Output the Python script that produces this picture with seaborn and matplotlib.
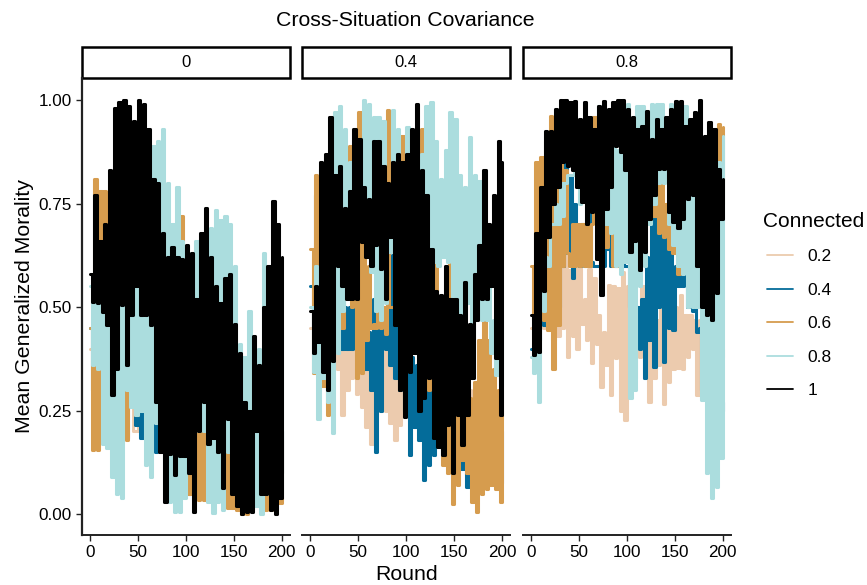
import numpy as np
import pandas as pd
import seaborn as sns
import matplotlib.pyplot as plt
from matplotlib.patches import Rectangle

# values: upper and lower edge of each jittery line
# upper edges sit on rounds 0, 5, 10 ... and lower edges on 2.5, 7.5 ...
cov_levels = ["0", "0.4", "0.8"]
conn_levels = ["0.2", "0.4", "0.6", "0.8", "1"]
colors = ["#ECCBAE", "#046C9A", "#D69C4E", "#ABDDDE", "#000000"]

# panel 0
c0_pink_hi = [.4, .45, .45, .45, .4, .4, .4, .4, .4, .35, .35, .35, .3, .3, .3, .3, .3, .25, .25, .2, .2]
c0_pink_lo = [.3, .3, .3, .3, .2, .3, .3, .3, .3, .3, .25, .25, .2, .2, .2, .15, .15, .1, .1, .1]
c0_blue_hi = [.45, .5, .6, .77, .5, .5, .5, .5, .30, .3, .28, .3, .3, .3, .3, .3, .3, .3, .3, .3, .3,
              .3, .3, .3, .3, .3, .3, .3, .3, .3, .3, .2, .2, .2, .2, .2, .2, .2, .2, .2, .2]
c0_blue_lo = [.3, .3, .3, .3, .3, .3, .3, .183, .3, .215, .183, .3, .3, .15, .3, .2, .2, .2, .2, .2,
              .05, .2, .2, .2, .1, .2, .2, .2, .15, .15, .1, .1, .1, .1, .1, .1, .1, .1, .1, .1]
c0_orange_hi = [.45, .81, .78, .78, .55, .5, .5, .5, .35, .35, .37, .4, .4, .4, .4, .4, .4, .4, .4, .72, .4,
                .4, .3, .3, .3, .3, .3, .3, .3, .3, .3, .2, .2, .2, .2, .2, .2, .2, .2, .18, .18]
c0_orange_lo = [.155, .155, .23, .19, .3, .3, .3, .18, .3, .24, .3, .3, .3, .3, .3, .3, .3, .3, .3, .05,
                .05, .1, .035, .035, .1, .06, .1, .1, .015, .015, .01, 0, 0, .01, .1, .1, .01, .01, .04, .027]
c0_teal_hi = [.55, .55, .6, .65, .7, .75, .8, .8, .8, .8, .8, .8, .8, .89, .90, .93, .80, .70, .79, .66, .63,
              .63, .66, .62, .63, .69, .735, .71, .72, .70, .60, .41, .38, .49, .42, .40, .63, .50, .45, .45, .45]
c0_teal_lo = [.36, .35, .17, .16, .09, .05, .04, .30, .26, .24, .25, .12, .09, .22, .22, .05, .03, .005, .005, .04,
              .15, .2, .2, .2, .03, .003, .03, .01, .15, .1, .1, .1, .1, .1, .02, 0, .05, .05, .05, .05]
c0_black_hi = [.58, .77, .66, .70, .83, .98, .995, 1.0, .985, .95, 1.0, .99, .93, .81, .80, .68, .62, .645, .62, .617, .65,
               .63, .52, .68, .74, .62, .55, .51, .57, .58, .46, .39, .27, .25, .43, .36, .50, .60, .755, .70, .62]
c0_black_lo = [.512, .51, .488, .456, .288, .35, .505, .36, .48, .55, .48, .48, .456, .27, .15, .03, .145, .095, .14, .14,
               .10, .006, .20, .27, .17, .185, .15, .063, .23, .05, .02, 0, .005, .005, .2, .05, .05, .01, 0, .04]

# panel 0.4
c4_pink_hi = [.45, .45, .45, .45, .45, .49, .49, .49, .49, .49, .49, .46, .44, .40, .40, .43, .40, .37, .35, .33, .31,
              .33, .33, .33, .33, .33, .33, .33, .33, .3, .3, .3, .3, .3, .3, .3, .3, .3, .3, .3, .3]
c4_pink_lo = [.4, .4, .4, .4, .38, .35, .24, .30, .33, .29, .26, .21, .17, .24, .25, .25, .22, .18, .215, .27,
              .3, .3, .3, .3, .3, .3, .3, .3, .25, .25, .25, .25, .25, .25, .25, .25, .25, .25, .25, .25]
c4_blue_hi = [.55, .77, .834, .6, .5, .5, .5, .5, .5, .5, .5, .5, .44, .52, .47, .5, .5, .625, .55, .4, .4,
              .38, .36, .36, .36, .36, .24, .3, .3, .2, .2, .2, .2, .2, .2, .2, .2, .2, .2, .2, .2]
c4_blue_lo = [.45, .45, .4, .4, .4, .4, .4, .4, .4, .4, .4, .35, .3, .15, .25, .4, .36, .33, .3, .25,
              .143, .21, .18, .083, .12, .143, .185, .2, .2, .2, .2, .11, .067, .1, .1, .1, .083, .1, .1, .075]
c4_orange_hi = [.64, .82, .78, .6, .6, .6, .6, .6, .89, .66, .97, .66, .60, .46, .5, .5, .975, .5, .5, .914, .5,
                .5, .5, .93, .5, .5, .625, .5, .5, .617, .45, .35, .35, .28, .32, .42, .50, .42, .35, .30, .25]
c4_orange_lo = [.34, .38, .31, .24, .4, .45, .45, .55, .5, .33, .34, .42, .45, .45, .45, .436, .5, .5, .5, .5,
                .5, .5, .3, .3, .3, .3, .3, .12, .1, .025, .07, .13, .1, .03, .005, .05, .06, .07, .06, .03]
c4_teal_hi = [.5, .6, .7, .8, .82, .97, .986, .93, .85, .90, .82, 1.0, .99, .96, .96, .95, .79, .975, .93, .85, .935,
              .87, .906, .87, .986, .995, .90, .81, .88, .97, .954, .82, .79, .91, .82, .805, .63, .55, .47, .47, .47]
c4_teal_lo = [.344, .23, .33, .27, .195, .39, .49, .71, .71, .71, .687, .76, .585, .49, .47, .51, .633, .71, .71, .71,
              .71, .71, .71, .77, .617, .61, .60, .62, .61, .51, .40, .47, .51, .424, .55, .47, .47, .39, .335, .31]
c4_black_hi = [.49, .55, .85, .87, .96, .82, .84, .74, .78, .93, .906, .79, .76, .90, .90, .84, .80, .85, .87, .85, .87,
               .93, .99, .83, .77, .64, .54, .53, .60, .52, .52, .48, .56, .46, .58, .65, .83, .70, .77, .90, .85]
c4_black_lo = [.39, .416, .344, .30, .37, .60, .55, .52, .52, .52, .657, .62, .60, .65, .593, .52, .67, .456, .30, .235,
               .344, .39, .25, .28, .33, .183, .163, .143, .215, .10, .24, .167, .24, .33, .47, .52, .52, .55, .376, .24]

# panel 0.8
c8_pink_hi = [.45, .45, .5, .5, .5, .55, .6, .633, .59, .65, .70, .52, .593, .57, .48, .44, .553, .55, .545, .585, .55,
              .5, .5, .55, .45, .42, .47, .512, .48, .536, .50, .53, .48, .48, .47, .47, .42, .42, .42, .42, .4]
c8_pink_lo = [.45, .45, .45, .45, .42, .43, .45, .38, .43, .40, .46, .42, .364, .41, .308, .36, .288, .376, .25, .227,
              .31, .33, .38, .33, .27, .33, .36, .267, .32, .35, .352, .35, .38, .40, .288, .28, .35, .38, .38, .38]
c8_blue_hi = [.4, .45, .5, .55, .55, .6, .7, .85, .82, .75, .6, .6, .73, .6, .6, .6, .75, .72, .65, .65, .6,
              .5, .5, .52, .62, .75, .8, .72, .68, .68, .6, .62, .7, .6, .55, .45, .4, .3, .3, .3, .27]
c8_blue_lo = [.4, .42, .456, .45, .45, .5, .6, .63, .57, .65, .7, .68, .61, .6, .6, .64, .6, .6, .6, .6,
              .5, .5, .4, .33, .42, .356, .5, .368, .45, .444, .55, .55, .5, .49, .44, .3, .3, .3, .3, .25]
c8_orange_hi = [.6, .85, .862, .9, .962, .85, .85, .83, .6, .6, .6, .6, .6, .96, .7, .74, .74, .6, .6, .98, .98,
                .7, .7, .98, .8, .8, .82, .96, .75, .98, .7, .68, .7, .65, .65, .65, .65, .7, .8, .942, .934]
c8_orange_lo = [.47, .5, .47, .444, .35, .456, .6, .63, .7, .7, .7, .7, .7, .7, .7, .645, .7, .7, .7, .7,
                .7, .7, .7, .7, .72, .72, .68, .67, .64, .63, .58, .6, .58, .6, .6, .6, .6, .6, .7, .75]
c8_teal_hi = [.38, .48, .6, .62, .7, .75, .8, .8, .82, .85, .75, .8, .85, .9, .986, .9, .9, .9, .88, .9, .99,
              .95, .985, .985, .95, .99, .99, .99, .95, .99, .92, .92, .985, .93, .9, .8, .75, .75, .75, .85, .914]
c8_teal_lo = [.34, .27, .49, .6, .7, .7, .72, .82, .82, .8, .8, .8, .8, .8, .7, .7, .68, .6, .58, .61,
              .28, .30, .55, .6, .7, .75, .8, .8, .7, .65, .6, .58, .50, .50, .50, .275, .1, .04, .067, .135]
c8_black_hi = [.48, .68, .79, .926, .926, .978, 1.0, 1.0, .995, .998, .954, .995, .96, .93, .986, .998, .978, .995, 1.0, 1.0, .978,
               .96, .93, .938, .974, .906, .954, .93, .96, .978, .998, .998, .938, .954, .97, 1.0, .914, .946, .93, .834, .81]
c8_black_lo = [.384, .392, .54, .67, .75, .79, .85, .84, .83, .79, .753, .70, .73, .617, .53, .737, .79, .89, .875, .83,
               .633, .66, .59, .633, .713, .77, .834, .834, .73, .705, .69, .713, .76, .77, .60, .50, .48, .47, .535, .713]

edges = {
    "0": [(c0_pink_hi, c0_pink_lo), (c0_blue_hi, c0_blue_lo), (c0_orange_hi, c0_orange_lo),
          (c0_teal_hi, c0_teal_lo), (c0_black_hi, c0_black_lo)],
    "0.4": [(c4_pink_hi, c4_pink_lo), (c4_blue_hi, c4_blue_lo), (c4_orange_hi, c4_orange_lo),
            (c4_teal_hi, c4_teal_lo), (c4_black_hi, c4_black_lo)],
    "0.8": [(c8_pink_hi, c8_pink_lo), (c8_blue_hi, c8_blue_lo), (c8_orange_hi, c8_orange_lo),
            (c8_teal_hi, c8_teal_lo), (c8_black_hi, c8_black_lo)],
}

# long table, one zigzag per panel and connected level
rows = []
for cov in cov_levels:
    for conn, (hi, lo) in zip(conn_levels, edges[cov]):
        vals = []
        for a, b in zip(hi, lo):
            vals += [a, b]
        vals.append(hi[-1])
        for r, v in zip(np.linspace(0, 200, len(vals)), vals):
            rows.append({"Round": r, "Morality": v, "Connected": conn, "Covariance": cov})
df = pd.DataFrame(rows)

sns.set_theme(style="ticks")
plt.rcParams["font.family"] = ["Liberation Sans", "DejaVu Sans"]
plt.rcParams["path.simplify"] = False
plt.rcParams["text.color"] = "black"

# steps keep the strokes upright so the jitter reads as a solid band
g = sns.relplot(data=df, x="Round", y="Morality", hue="Connected", hue_order=conn_levels,
                col="Covariance", col_order=cov_levels, kind="line", palette=colors,
                estimator=None, sort=False, linewidth=2.2, drawstyle="steps-post",
                height=4, aspect=1)
g.figure.set_size_inches(8.67, 5.85)
g.figure.subplots_adjust(left=81.5 / 867, right=731 / 867, top=1 - 78 / 585, bottom=1 - 535 / 585, wspace=12 / 208)
g.set_titles("")
g.set(xlim=(-8.5, 208.5), ylim=(-0.05, 1.053), xticks=[0, 50, 100, 150, 200], yticks=[0, .25, .5, .75, 1])

for i, ax in enumerate(g.axes.flat):
    ax.set_ylabel("")
    ax.set_xlabel("Round" if i == 1 else "", fontsize=15.3, color="black", labelpad=4)
    ax.tick_params(axis="both", labelsize=12.3, length=4, width=1, color="#222222", labelcolor="black", pad=3)
    ax.spines["bottom"].set_linewidth(1.4)
    ax.spines["bottom"].set_color("#222222")
    if i == 0:
        ax.spines["left"].set_linewidth(1.6)
        ax.spines["left"].set_color("#222222")
        ax.yaxis.set_major_formatter("{x:.2f}")
    else:
        ax.spines["left"].set_visible(False)
        ax.tick_params(axis="y", left=False, labelleft=False)
    # strip box above the panel
    ax.add_patch(Rectangle((0, 1), 1, 31 / 457, transform=ax.transAxes, clip_on=False,
                           facecolor="white", edgecolor="black", linewidth=1.8))
    ax.text(0.5, 1 + 15.5 / 457, cov_levels[i], transform=ax.transAxes, ha="center", va="center", fontsize=12)

g.axes.flat[0].set_ylabel("Mean Generalized Morality", fontsize=15.3, color="black", labelpad=3)
g.figure.text(405 / 867, 1 - 21 / 585, "Cross-Situation Covariance", ha="center", va="center", fontsize=15.3)

sns.move_legend(g, "center left", bbox_to_anchor=(751 / 867, 1 - 305 / 585), frameon=False, title="Connected",
                fontsize=12.5, title_fontsize=15, labelspacing=1.06, handlelength=1.5, handletextpad=0.85)
g.legend._legend_box.align = "left"
g.legend.get_title().set_position((-4, 0))
for line in g.legend.get_lines():
    line.set_linewidth(1.3)

g.figure.savefig("out.png", dpi=100)
